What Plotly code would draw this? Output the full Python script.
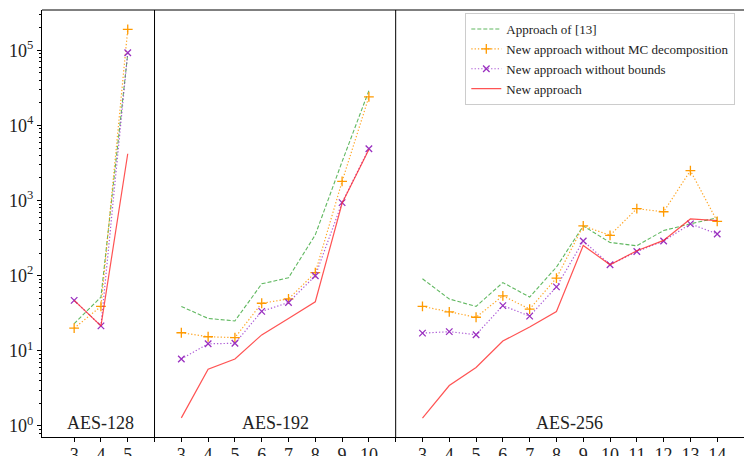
import plotly.graph_objects as go

# ---------------- data ----------------
panel_names = ["AES-128", "AES-192", "AES-256"]
rounds_128 = [3, 4, 5]
rounds_192 = [3, 4, 5, 6, 7, 8, 9, 10]
rounds_256 = [3, 4, 5, 6, 7, 8, 9, 10, 11, 12, 13, 14]

series_names = ["Approach of [13]", "New approach without MC decomposition",
                "New approach without bounds", "New approach"]

approach13_128 = [23, 52, 90000]
approach13_192 = [39, 27, 25, 78, 94, 350, 3300, 29000]
approach13_256 = [91, 49, 39, 81, 52, 130, 460, 277, 250, 400, 490, 590]

nomc_128 = [20, 39, 190000]
nomc_192 = [17.4, 15.4, 15, 43, 49, 110, 1800, 24000]
nomc_256 = [39, 33, 28, 54, 36, 93, 460, 345, 780, 710, 2500, 530]

nobounds_128 = [47, 21.5, 93000]
nobounds_192 = [7.8, 12.4, 12.6, 33.5, 44, 100, 940, 4900]
nobounds_256 = [17.2, 18, 16.4, 40, 29, 71, 290, 140, 210, 290, 490, 360]

new_128 = [47, 21.5, 4200]
new_192 = [1.28, 5.7, 7.8, 16.3, 27, 45, 920, 4800]
new_256 = [1.27, 3.45, 6.0, 13.5, 20.8, 33.4, 253, 140, 215, 295, 570, 540]

ytick_vals = [1, 10, 100, 1000, 10000, 100000]
ytick_text = ["10<sup>0</sup>", "10<sup>1</sup>", "10<sup>2</sup>",
              "10<sup>3</sup>", "10<sup>4</sup>", "10<sup>5</sup>"]

# ---------------- layout helpers ----------------
panels_rounds = [rounds_128, rounds_192, rounds_256]
offsets = []
off = 0
for r in panels_rounds:
    offsets.append(off)
    off += len(r) + 1
separators = [offsets[i] - 1 for i in range(1, len(offsets))]

def positions(i):
    return [offsets[i] + k for k in range(len(panels_rounds[i]))]

def joined(lists):
    xs, ys = [], []
    for i, vals in enumerate(lists):
        if i > 0:
            xs.append(None); ys.append(None)
        xs += positions(i)
        ys += vals
    return xs, ys

series_data = [
    [approach13_128, approach13_192, approach13_256],
    [nomc_128, nomc_192, nomc_256],
    [nobounds_128, nobounds_192, nobounds_256],
    [new_128, new_192, new_256],
]
styles = [
    dict(line=dict(color="rgba(44,160,44,0.75)", width=1.1, dash="4px,2px"), mode="lines", marker=None),
    dict(line=dict(color="rgba(255,150,0,0.85)", width=1.2, dash="1.3px,2px"), mode="lines+markers",
         marker=dict(symbol="cross-thin", size=7, line=dict(color="#ff9a00", width=1.3))),
    dict(line=dict(color="rgba(153,50,204,0.8)", width=1.2, dash="1.3px,2px"), mode="lines+markers",
         marker=dict(symbol="x-thin", size=6.5, line=dict(color="#9a30c0", width=1.3))),
    dict(line=dict(color="rgba(255,40,40,0.8)", width=1.2), mode="lines", marker=None),
]

fig = go.Figure()
for name, data, st in zip(series_names, series_data, styles):
    xs, ys = joined(data)
    kw = dict(x=xs, y=ys, name=name, mode=st["mode"], line=st["line"], connectgaps=False)
    if st["marker"] is not None:
        kw["marker"] = st["marker"]
    fig.add_trace(go.Scatter(**kw))

tickvals, ticktext = [], []
for i, r in enumerate(panels_rounds):
    tickvals += positions(i)
    ticktext += [str(v) for v in r]
tickvals += separators
ticktext += ["" for _ in separators]

minor_vals = [m * 10 ** k for k in range(-1, 6) for m in range(2, 10)]

for s in separators:
    fig.add_shape(type="line", xref="x", yref="paper", x0=s, x1=s, y0=0, y1=1,
                  line=dict(color="black", width=1))
fig.add_shape(type="line", xref="paper", yref="paper", x0=0, x1=1, y0=1, y1=1,
              line=dict(color="black", width=1))

for i, nm in enumerate(panel_names):
    p = positions(i)
    fig.add_annotation(x=(p[0] + p[-1]) / 2, y=0.0, xref="x", yref="paper",
                       yanchor="bottom", yshift=2, text=nm, showarrow=False,
                       font=dict(family="Liberation Serif", size=18, color="#222"))

fig.update_layout(
    width=744, height=456,
    margin=dict(l=42, r=0, t=10, b=19, autoexpand=False),
    plot_bgcolor="white", paper_bgcolor="white",
    font=dict(family="Liberation Serif", color="#222"),
    showlegend=True,
    legend=dict(x=0.603, y=0.993, xanchor="left", yanchor="top",
                bgcolor="rgba(255,255,255,0.9)", bordercolor="#cccccc", borderwidth=1,
                font=dict(family="Liberation Serif", size=13, color="#222"),
                tracegroupgap=0, itemwidth=30),
    xaxis=dict(range=[-1.2, 25.0], tickvals=tickvals, ticktext=ticktext, automargin=False,
               showgrid=False, zeroline=False, showline=True, linecolor="black", linewidth=1,
               ticks="outside", ticklen=4, tickcolor="black", ticklabelstandoff=-3,
               tickfont=dict(family="Liberation Serif", size=18, color="#222")),
    yaxis=dict(type="log", range=[-0.147, 5.537], tickvals=ytick_vals, ticktext=ytick_text,
               automargin=False,
               showgrid=False, zeroline=False, showline=True, linecolor="black", linewidth=1,
               ticks="outside", ticklen=4, tickcolor="black",
               tickfont=dict(family="Liberation Serif", size=18, color="#222"),
               minor=dict(tickvals=minor_vals, ticks="outside", ticklen=2, tickcolor="black", showgrid=False)),
)

fig.write_html("out.html", config={"displayModeBar": False},
               post_script="document.body.style.margin='0';")
